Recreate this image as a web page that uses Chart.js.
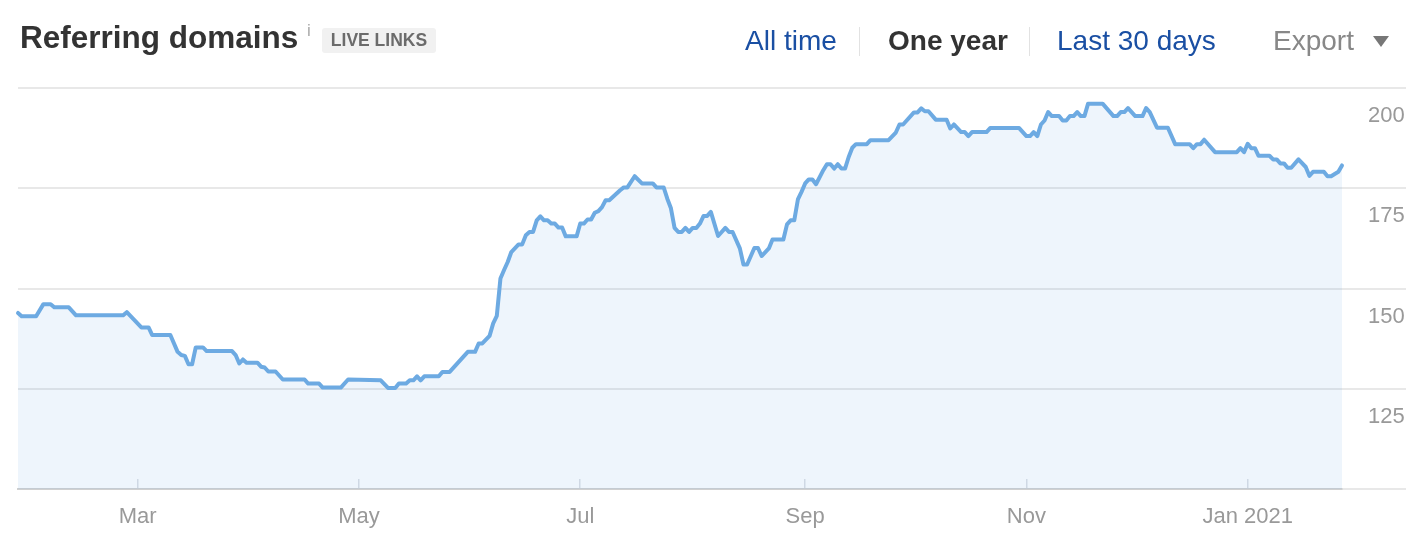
<!DOCTYPE html>
<html>
<head>
<meta charset="utf-8">
<title>Referring domains</title>
<script src="https://cdn.jsdelivr.net/npm/chart.js@4.4.1/dist/chart.umd.min.js"></script>
<style>
  body { margin: 0; background: #fff; font-family: "Liberation Sans", Arial, sans-serif; }
  #wrap { position: relative; width: 1428px; height: 556px; overflow: hidden; }
  #chart { position: absolute; left: 0; top: 0; }
  .hd { position: absolute; white-space: nowrap; }
  .title { left: 20px; top: 22px; font-size: 31.5px; line-height: 31px; font-weight: bold; color: #333; }
  .info { left: 307px; top: 22px; font-size: 17px; line-height: 17px; color: #aaa; }
  .badge { left: 322px; top: 28px; width: 114px; height: 25px; background: #f1f1f1; border-radius: 3px;
           font-size: 17.5px; line-height: 25px; font-weight: bold; color: #6b6b6b; text-align: center; }
  .link { top: 27px; font-size: 28px; line-height: 28px; color: #1a4fa3; }
  .sel { color: #333; font-weight: bold; }
  .exp { color: #888; }
  .sep { position: absolute; top: 27px; width: 1px; height: 29px; background: #e2e2e2; }
  .tri { position: absolute; left: 1373px; top: 36px; width: 0; height: 0;
         border-left: 8px solid transparent; border-right: 8px solid transparent; border-top: 11px solid #777; }
</style>
</head>
<body>
<div id="wrap">
  <canvas id="chart" width="1428" height="556"></canvas>
  <div class="hd title">Referring domains</div>
  <div class="hd info">i</div>
  <div class="hd badge">LIVE LINKS</div>
  <div class="hd link" style="left:745px">All time</div>
  <div class="sep" style="left:859px"></div>
  <div class="hd link sel" style="left:888px">One year</div>
  <div class="sep" style="left:1029px"></div>
  <div class="hd link" style="left:1057px">Last 30 days</div>
  <div class="hd link exp" style="left:1273px">Export</div>
  <div class="tri"></div>
</div>
<script>
/*----data (day 0 = 28 Jan 2020)----*/
const days = [0,1,5,7,9,10,14,16,29,30,34,36,37,42,44,45,46,47,48,49,51,52,59,60,61,62,63,66,67,68,69,71,73,79,80,83,84,89,91,
  100,102,104,105,107,108,109,110,111,112,116,117,119,124,126,127,128,130,131,132,133,134,135,136,138,139,140,141,142,143,144,145,146,147,148,149,150,151,154,155,156,157,158,159,160,161,162,163,166,167,168,170,172,175,176,178,179,180,181,182,
  183,184,185,186,187,188,189,190,191,193,195,196,197,199,200,201,203,204,205,207,208,211,212,213,214,215,216,217,218,219,220,222,223,224,225,226,227,228,229,230,231,234,235,240,242,243,244,247,248,249,250,251,253,256,257,258,260,261,262,263,267,268,273,
  276,278,279,280,281,282,283,284,285,287,288,289,290,291,292,293,294,295,299,302,303,304,305,306,308,310,311,312,314,317,319,323,324,325,326,327,330,336,337,338,339,340,341,342,345,346,347,348,349,350,351,353,355,356,357,360,361,362,364,365];

const refDomains = [143.9,143.1,143.1,146.1,146.1,145.3,145.3,143.3,143.3,144.1,140.3,140.3,138.4,138.4,134.2,133.4,133.2,131.1,131.1,135.3,135.3,134.4,134.4,133.4,131.3,132.3,131.5,131.5,130.5,130.3,129.3,129.3,127.3,127.3,126.3,126.3,125.3,125.3,127.3,
  127.1,125.2,125.2,126.3,126.3,127.1,127.1,128.1,127.1,128.1,128.1,129.2,129.2,134.2,134.2,136.3,136.3,138.2,141.3,143.2,152.5,154.6,156.6,159.1,161.0,161.0,163.3,164.1,164.1,167.0,168.0,167.0,167.0,166.2,166.2,165.2,165.2,163.0,163.0,166.2,166.2,167.2,167.2,168.9,169.3,170.3,172.0,172.0,174.5,175.2,175.2,178.0,176.2,176.2,175.2,175.2,172.4,170.0,165.1,164.1,
  164.1,165.1,164.1,165.1,165.1,166.2,168.1,168.1,169.1,163.1,165.1,164.1,164.1,160.0,156.0,156.0,160.1,160.1,158.1,160.0,162.2,162.2,166.0,167.0,167.0,172.2,174.1,176.2,177.2,177.2,176.0,179.5,181.0,181.0,179.9,181.0,179.9,179.9,182.8,185.1,186.0,186.0,187.0,187.0,188.9,190.9,190.9,193.9,193.9,194.9,194.2,194.2,192.1,192.1,189.9,190.9,189.0,189.0,188.0,189.0,189.0,190.0,190.0,
  190.0,188.0,188.0,189.0,188.0,190.9,191.9,194.0,193.0,193.0,191.9,191.9,193.0,193.0,194.0,193.0,193.0,196.1,196.1,193.0,193.0,194.0,194.0,195.0,193.0,193.0,195.0,194.0,190.1,190.1,186.0,186.0,185.0,186.0,186.0,187.1,184.0,184.0,185.0,184.0,186.1,185.0,185.0,183.1,183.1,182.2,182.2,181.2,181.2,180.1,180.1,182.2,180.3,178.1,179.1,179.1,178.0,178.0,179.1,180.7];

const monthTickDays = [33, 94, 155, 217, 278, 339];
const monthTickLabels = ["Mar", "May", "Jul", "Sep", "Nov", "Jan 2021"];
const yTicks = [100, 125, 150, 175, 200];

/*----chart----*/
new Chart("chart", {
  type: "line",
  data: {
    datasets: [{
      data: days.map((d, i) => ({x: d, y: refDomains[i]})),
      borderColor: "#6daae2",
      backgroundColor: "rgba(109,170,226,0.115)",
      borderWidth: 4,
      fill: "origin",
      tension: 0,
      pointRadius: 0,
      borderJoinStyle: "round",
      borderCapStyle: "round",
      clip: false
    }]
  },
  options: {
    responsive: false,
    animation: false,
    layout: {padding: {top: 88, left: 18, right: 22, bottom: 0}},
    plugins: {legend: {display: false}, tooltip: {enabled: false}},
    scales: {
      x: {
        type: "linear",
        z: 1,
        min: 0,
        max: 365,
        afterBuildTicks: s => { s.ticks = monthTickDays.map(v => ({value: v})); },
        afterFit: s => { s.height = 67; },
        grid: {drawOnChartArea: false, drawTicks: true, tickLength: -10, color: "#dcdfe4", lineWidth: 1.5},
        border: {display: true, color: "#d0d0d0", width: 2},
        ticks: {
          padding: 25,
          color: "#999",
          font: {family: "Liberation Sans", size: 22},
          maxRotation: 0,
          autoSkip: false,
          callback: (v, i) => monthTickLabels[i]
        }
      },
      y: {
        position: "right",
        min: 100,
        max: 200,
        afterBuildTicks: s => { s.ticks = yTicks.map(v => ({value: v})); },
        afterFit: s => { s.width = 64; },
        grid: {color: "#e8e8e8", lineWidth: 2, drawTicks: true, tickLength: 64},
        border: {display: false},
        ticks: {
          padding: -38,
          labelOffset: 28,
          color: "#999",
          font: {family: "Liberation Sans", size: 22},
          callback: v => v === 100 ? "" : v
        }
      }
    }
  }
});
</script>
</body>
</html>
